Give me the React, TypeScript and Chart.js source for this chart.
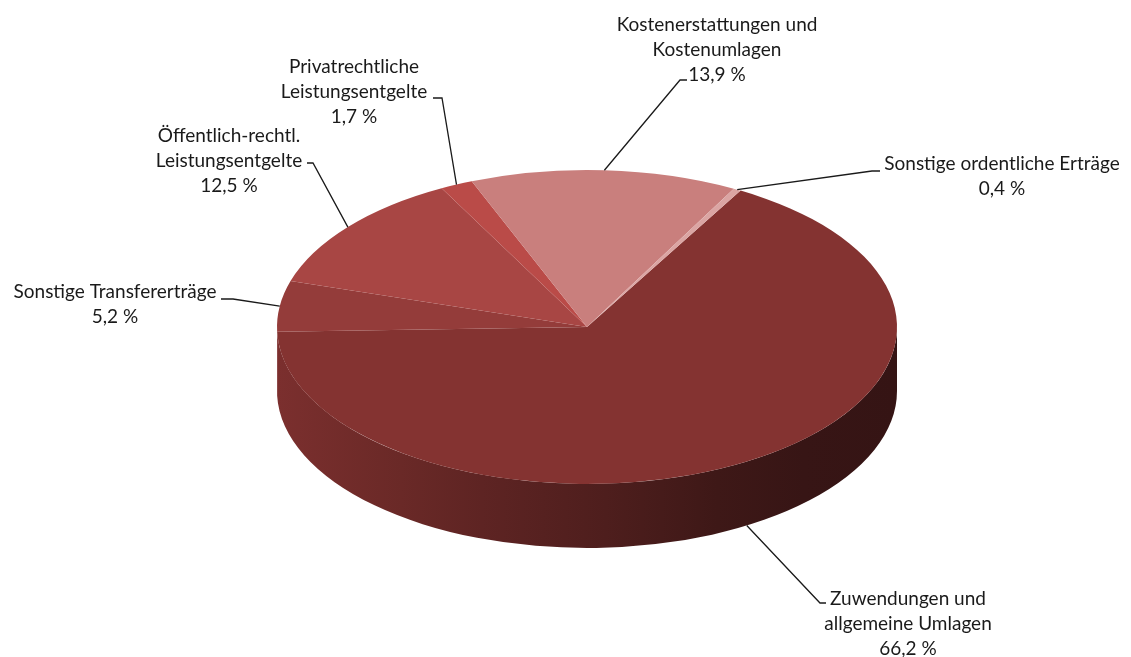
import React, { useEffect, useRef } from 'react';
import { Chart, registerables } from 'chart.js';

Chart.register(...registerables);

// ---- data ----
const categories = [
  'Zuwendungen und allgemeine Umlagen',
  'Sonstige Transfererträge',
  'Öffentlich-rechtl. Leistungsentgelte',
  'Privatrechtliche Leistungsentgelte',
  'Kostenerstattungen und Kostenumlagen',
  'Sonstige ordentliche Erträge',
];
const shares = [66.2, 5.2, 12.5, 1.7, 13.9, 0.4];
const labelLines = [
  ['Zuwendungen und', 'allgemeine Umlagen'],
  ['Sonstige Transfererträge'],
  ['Öffentlich-rechtl.', 'Leistungsentgelte'],
  ['Privatrechtliche', 'Leistungsentgelte'],
  ['Kostenerstattungen und', 'Kostenumlagen'],
  ['Sonstige ordentliche Erträge'],
];
const sliceColors = ['#843331', '#943c3a', '#a84644', '#ba4b48', '#c97f7d', '#dba5a3'];

// ---- layout / style (not data) ----
const W = 1131;
const H = 657;
const FLATTEN = 157 / 310;
const DEPTH = 64;
const FONT = '19px Lato';
const LINE_H = 25;
// text centre x, first baseline y, leader elbow and end
const labelLayout = [
  { tx: 908, ty: 605, elbow: [820, 603], end: [826, 603] },
  { tx: 115, ty: 298, elbow: [233, 299], end: [221, 299] },
  { tx: 229, ty: 142, elbow: [313, 163], end: [307, 163] },
  { tx: 354, ty: 73, elbow: [442, 98], end: [433, 98] },
  { tx: 717, ty: 31, elbow: [680, 80], end: [687, 80] },
  { tx: 1002, ty: 170, elbow: [872, 171], end: [880, 171] },
];
const sideShade = [
  [0, 0.93],
  [0.2, 0.8],
  [0.33, 0.71],
  [0.53, 0.59],
  [0.71, 0.47],
  [0.85, 0.42],
  [1, 0.4],
];

function shade(hex: string, f: number) {
  const n = parseInt(hex.slice(1), 16);
  const r = Math.round(((n >> 16) & 255) * f);
  const g = Math.round(((n >> 8) & 255) * f);
  const b = Math.round((n & 255) * f);
  return `rgb(${r},${g},${b})`;
}

const fmt = (v: number) => v.toFixed(1).replace('.', ',') + ' %';

const pie3d = {
  id: 'pie3d',
  beforeDatasetsDraw(chart: any) {
    const meta = chart.getDatasetMeta(0);
    const arcs = meta.data;
    if (!arcs.length) return;
    const { x: cx, y: cy, outerRadius: r } = arcs[0].getProps(['x', 'y', 'outerRadius'], true);
    const ry = r * FLATTEN;
    const ctx = chart.ctx;
    arcs.forEach((arc: any, i: number) => {
      const { startAngle, endAngle } = arc.getProps(['startAngle', 'endAngle'], true);
      for (let k = -2; k <= 2; k++) {
        const lo = 2 * Math.PI * k;
        const hi = lo + Math.PI;
        const a = Math.max(startAngle, lo);
        const b = Math.min(endAngle, hi);
        if (b <= a) continue;
        const sa = a - lo;
        const sb = b - lo;
        const grad = ctx.createLinearGradient(cx - r, 0, cx + r, 0);
        sideShade.forEach(([p, f]) => grad.addColorStop(p, shade(sliceColors[i], f)));
        ctx.save();
        ctx.beginPath();
        ctx.ellipse(cx, cy, r, ry, 0, sa, sb, false);
        ctx.ellipse(cx, cy + DEPTH, r, ry, 0, sb, sa, true);
        ctx.closePath();
        ctx.fillStyle = grad;
        ctx.fill();
        ctx.restore();
      }
    });
    ctx.save();
    ctx.translate(cx, cy);
    ctx.scale(1, FLATTEN);
    ctx.translate(-cx, -cy);
  },
  afterDatasetsDraw(chart: any) {
    chart.ctx.restore();
  },
};

const pieLabels = {
  id: 'pieLabels',
  afterDraw(chart: any) {
    const meta = chart.getDatasetMeta(0);
    const arcs = meta.data;
    if (!arcs.length) return;
    const { x: cx, y: cy, outerRadius: r } = arcs[0].getProps(['x', 'y', 'outerRadius'], true);
    const ry = r * FLATTEN;
    const ctx = chart.ctx;
    ctx.save();
    arcs.forEach((arc: any, i: number) => {
      const { startAngle, endAngle } = arc.getProps(['startAngle', 'endAngle'], true);
      const mid = (startAngle + endAngle) / 2;
      const ax = cx + r * Math.cos(mid);
      let ay = cy + ry * Math.sin(mid);
      if (Math.sin(mid) > 0.3) ay += DEPTH;
      const L = labelLayout[i];
      ctx.beginPath();
      ctx.moveTo(ax, ay);
      ctx.lineTo(L.elbow[0], L.elbow[1]);
      ctx.lineTo(L.end[0], L.end[1]);
      ctx.strokeStyle = '#1a1a1a';
      ctx.lineWidth = 1.3;
      ctx.stroke();
      ctx.fillStyle = '#1a1a1a';
      ctx.font = FONT;
      ctx.textAlign = 'center';
      ctx.textBaseline = 'alphabetic';
      const lines = [...labelLines[i], fmt(shares[i])];
      lines.forEach((t, j) => ctx.fillText(t, L.tx, L.ty + j * LINE_H));
    });
    ctx.restore();
  },
};

export default function App() {
  const ref = useRef<HTMLCanvasElement | null>(null);
  useEffect(() => {
    if (!ref.current) return;
    const chart = new Chart(ref.current, {
      type: 'pie',
      data: {
        labels: categories,
        datasets: [
          {
            data: shares,
            backgroundColor: sliceColors,
            borderWidth: 0,
            hoverOffset: 0,
            offset: 0,
          } as any,
        ],
      },
      options: {
        responsive: false,
        animation: false,
        rotation: 29.7,
        layout: { padding: { left: 277, right: 234, top: 17, bottom: 20 } },
        plugins: { legend: { display: false }, tooltip: { enabled: false } },
        events: [],
      } as any,
      plugins: [pie3d, pieLabels],
    });
    return () => chart.destroy();
  }, []);
  return (
    <div style={{ position: 'absolute', left: 0, top: 0, width: W, height: H, background: '#fff' }}>
      <canvas ref={ref} width={W} height={H} style={{ width: W, height: H, display: 'block' }} />
    </div>
  );
}
